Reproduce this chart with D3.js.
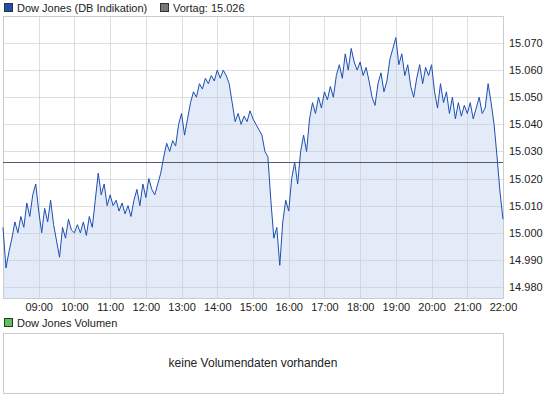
<!DOCTYPE html>
<html><head><meta charset="utf-8">
<script src="https://cdnjs.cloudflare.com/ajax/libs/d3/7.8.5/d3.min.js"></script>
<style>body{margin:0;background:#fff}svg{font-family:"Liberation Sans",Arial,sans-serif;font-size:11px}</style>
</head><body>
<svg id="c" width="545" height="401"></svg>
<script>
const times=["08:00","08:05","08:10","08:15","08:20","08:25","08:30","08:35","08:40","08:45","08:50","08:55","09:00","09:05","09:10","09:15","09:20","09:25","09:30","09:35","09:40","09:45","09:50","09:55","10:00","10:05","10:10","10:15","10:20","10:25","10:30","10:35","10:40","10:45","10:50","10:55","11:00","11:05","11:10","11:15","11:20","11:25","11:30","11:35","11:40","11:45","11:50","11:55","12:00","12:05","12:10","12:15","12:20","12:25","12:30","12:35","12:40","12:45","12:50","12:55","13:00","13:05","13:10","13:15","13:20","13:25","13:30","13:35","13:40","13:45","13:50","13:55","14:00","14:05","14:10","14:15","14:20","14:25","14:30","14:35","14:40","14:45","14:50","14:55","15:00","15:05","15:10","15:15","15:20","15:25","15:30","15:35","15:40","15:45","15:50","15:55","16:00","16:05","16:10","16:15","16:20","16:25","16:30","16:35","16:40","16:45","16:50","16:55","17:00","17:05","17:10","17:15","17:20","17:25","17:30","17:35","17:40","17:45","17:50","17:55","18:00","18:05","18:10","18:15","18:20","18:25","18:30","18:35","18:40","18:45","18:50","18:55","19:00","19:05","19:10","19:15","19:20","19:25","19:30","19:35","19:40","19:45","19:50","19:55","20:00","20:05","20:10","20:15","20:20","20:25","20:30","20:35","20:40","20:45","20:50","20:55","21:00","21:05","21:10","21:15","21:20","21:25","21:30","21:35","21:40","21:45","21:50","21:55","22:00"];
const values=[15.002,14.987,14.993,14.998,15.004,15.000,15.006,15.002,15.011,15.006,15.014,15.018,15.008,15.000,15.009,15.004,15.012,15.003,14.997,14.991,15.002,14.998,15.005,15.001,15.000,15.003,15.000,15.004,14.999,15.006,15.002,15.012,15.022,15.014,15.018,15.010,15.014,15.010,15.012,15.008,15.011,15.007,15.010,15.006,15.012,15.016,15.010,15.018,15.013,15.020,15.016,15.014,15.018,15.022,15.028,15.033,15.030,15.034,15.032,15.040,15.044,15.036,15.042,15.048,15.052,15.050,15.055,15.053,15.057,15.055,15.058,15.056,15.060,15.057,15.060,15.058,15.055,15.048,15.041,15.044,15.040,15.043,15.041,15.045,15.042,15.040,15.038,15.036,15.030,15.028,15.012,14.998,15.002,14.988,15.004,15.012,15.008,15.020,15.026,15.018,15.030,15.036,15.030,15.042,15.048,15.044,15.050,15.046,15.052,15.049,15.054,15.050,15.058,15.062,15.057,15.066,15.060,15.068,15.063,15.060,15.063,15.058,15.061,15.056,15.050,15.047,15.055,15.059,15.052,15.056,15.064,15.068,15.072,15.062,15.066,15.058,15.062,15.054,15.050,15.057,15.062,15.055,15.061,15.058,15.062,15.052,15.046,15.055,15.048,15.052,15.044,15.050,15.042,15.048,15.043,15.047,15.044,15.048,15.042,15.046,15.050,15.044,15.046,15.055,15.048,15.040,15.028,15.015,15.005];
const xTicks=["09:00","10:00","11:00","12:00","13:00","14:00","15:00","16:00","17:00","18:00","19:00","20:00","21:00","22:00"];
const yTicks=[14.98,14.99,15.00,15.01,15.02,15.03,15.04,15.05,15.06,15.07];
const vortag=15.026;
const mainLabel="Dow Jones (DB Indikation)", vortagLabel="Vortag: 15.026";
const volLabel="Dow Jones Volumen", volMsg="keine Volumendaten vorhanden";

const svg=d3.select("#c");
const toMin=t=>{const [h,m]=t.split(":").map(Number);return h*60+m;};
const L=3,R=503,T=16,B=298;
const x=d3.scaleLinear().domain([480,1320]).range([L,R]);
const y=d3.scaleLinear().domain([14.98,15.07]).range([287,43]);
const fmt=v=>d3.format(",.3f")(v).replace(",",".");
const data=times.map((t,i)=>({m:toMin(t),v:values[i]}));

// legend
function legend(px,py,fill,txt){
  svg.append("rect").attr("x",px+0.5).attr("y",py+0.5).attr("width",8).attr("height",8).attr("fill",fill).attr("stroke","#333");
  svg.append("text").attr("x",px+13).attr("y",py+9).attr("fill","#222").text(txt);
}
legend(4,3,"#1d4fb3",mainLabel);
legend(160,3,"#777",vortagLabel);

svg.append("rect").attr("x",L+0.5).attr("y",T+0.5).attr("width",R-L).attr("height",B-T).attr("fill","#fff");
// area
svg.append("path").datum(data).attr("fill","#e3ebf9")
  .attr("d",d3.area().x(d=>x(d.m)).y0(B).y1(d=>y(d.v)));
// grid
const g=svg.append("g").attr("stroke","#c8c8c8").attr("stroke-opacity",0.6);
xTicks.forEach(t=>g.append("line").attr("x1",Math.round(x(toMin(t)))+0.5).attr("x2",Math.round(x(toMin(t)))+0.5).attr("y1",T).attr("y2",B));
yTicks.forEach(v=>g.append("line").attr("y1",Math.round(y(v))+0.5).attr("y2",Math.round(y(v))+0.5).attr("x1",L).attr("x2",R));
svg.append("rect").attr("x",L+0.5).attr("y",T+0.5).attr("width",R-L).attr("height",B-T).attr("fill","none").attr("stroke","#ccc");
// vortag
svg.append("line").attr("x1",L).attr("x2",R).attr("y1",Math.round(y(vortag))+0.5).attr("y2",Math.round(y(vortag))+0.5).attr("stroke","#4f5d73");
// line
svg.append("path").datum(data).attr("fill","none").attr("stroke","#1d4fb3").attr("stroke-width",1)
  .attr("d",d3.line().x(d=>x(d.m)).y(d=>y(d.v)));
// axes
svg.append("g").attr("transform",`translate(0,${B})`)
  .call(d3.axisBottom(x).tickValues(xTicks.map(toMin)).tickSize(0).tickPadding(5)
    .tickFormat(m=>d3.format("02")(Math.floor(m/60))+":"+d3.format("02")(m%60)))
  .call(a=>a.select(".domain").remove())
  .selectAll("text").attr("font-size",11).attr("fill","#222").attr("font-family","Liberation Sans, Arial, sans-serif");
svg.append("g").attr("transform",`translate(${R},0)`)
  .call(d3.axisRight(y).tickValues(yTicks).tickSize(0).tickPadding(6).tickFormat(fmt))
  .call(a=>a.select(".domain").remove())
  .selectAll("text").attr("font-size",11).attr("fill","#222").attr("font-family","Liberation Sans, Arial, sans-serif");

// volume panel
legend(4,318,"#5cc05c",volLabel);
svg.append("rect").attr("x",L+0.5).attr("y",333.5).attr("width",R-L).attr("height",60).attr("fill","#fff").attr("stroke","#ccc");
svg.append("text").attr("x",(L+R)/2).attr("y",367).attr("text-anchor","middle").attr("font-size",12).attr("fill","#222").text(volMsg);
</script></body></html>
